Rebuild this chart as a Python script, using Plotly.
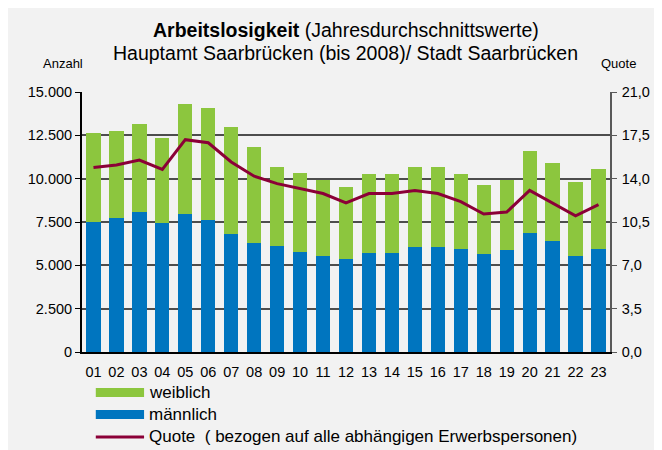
import plotly.graph_objects as go

jahre = ["01","02","03","04","05","06","07","08","09","10","11","12",
         "13","14","15","16","17","18","19","20","21","22","23"]
gesamt = [12630, 12730, 13150, 12350, 14300, 14080, 12960, 11810, 10670, 10340, 9920, 9520,
          10250, 10250, 10670, 10670, 10250, 9640, 9920, 11600, 10880, 9830, 10550]
maennlich = [7520, 7750, 8050, 7420, 7940, 7630, 6790, 6280, 6090, 5760, 5550, 5340,
             5740, 5740, 6070, 6070, 5970, 5650, 5880, 6890, 6390, 5530, 5970]
weiblich = [g - m for g, m in zip(gesamt, maennlich)]
quote = [14.9, 15.1, 15.5, 14.75, 17.15, 16.9, 15.35, 14.2, 13.6, 13.2, 12.8, 12.05,
         12.8, 12.8, 13.05, 12.8, 12.15, 11.15, 11.3, 13.05, 12.05, 11.0, 11.9]

GREEN = "#8cc63e"
BLUE = "#0075bf"
RED = "#8b0037"
FONT = "Liberation Sans, Arial, sans-serif"

fig = go.Figure()
fig.add_trace(go.Bar(x=jahre, y=maennlich, name="männlich", marker=dict(color=BLUE, line=dict(width=0)), showlegend=False))
fig.add_trace(go.Bar(x=jahre, y=weiblich, name="weiblich", marker=dict(color=GREEN, line=dict(width=0)), showlegend=False))
fig.add_trace(go.Scatter(x=jahre, y=quote, name="Quote", yaxis="y2", mode="lines",
                         line=dict(color=RED, width=3), showlegend=False))

# page body has an 8px margin; the figure starts at (8, 8) in the window
OFF = 8
W, H = 654, 442
L, T = 82 - OFF, 92 - OFF
pw, ph = 536, 260
R = W - L - pw
B = H - T - ph

def px(x):
    return (x - OFF - L) / pw

def py(y):
    return (T + ph - (y - OFF)) / ph

annotations = [
    dict(text="<b>Arbeitslosigkeit</b> (Jahresdurchschnittswerte)", x=px(350), y=py(30),
         font=dict(size=19.5, color="black")),
    dict(text="Hauptamt Saarbrücken (bis 2008)/ Stadt Saarbrücken", x=px(349), y=py(53),
         font=dict(size=19.5, color="black")),
    dict(text="Anzahl", x=px(63), y=py(64), font=dict(size=13, color="black")),
    dict(text="Quote", x=px(627), y=py(64), font=dict(size=13, color="black")),
    dict(text="weiblich", x=px(148), y=py(393), xanchor="left", font=dict(size=17, color="black")),
    dict(text="männlich", x=px(148), y=py(414), xanchor="left", font=dict(size=17, color="black")),
    dict(text="Quote  ( bezogen auf alle abhängigen Erwerbspersonen)", x=px(148), y=py(436),
         xanchor="left", font=dict(size=17, color="black")),
]
for a in annotations:
    a.update(xref="paper", yref="paper", showarrow=False)
    a.setdefault("xanchor", "center")
    a["yanchor"] = "middle"

shapes = [
    dict(type="rect", xref="paper", yref="paper", x0=px(96), x1=px(145), y0=py(397), y1=py(388),
         fillcolor=GREEN, line=dict(width=0)),
    dict(type="rect", xref="paper", yref="paper", x0=px(96), x1=px(145), y0=py(419), y1=py(410),
         fillcolor=BLUE, line=dict(width=0)),
    dict(type="line", xref="paper", yref="paper", x0=px(96), x1=px(145), y0=py(437), y1=py(437),
         line=dict(color=RED, width=3)),
]

fig.update_layout(
    width=W, height=H,
    margin=dict(l=L, r=R, t=T, b=B),
    paper_bgcolor="#f2f2f2", plot_bgcolor="#f2f2f2",
    barmode="stack", bargap=0.38,
    separators=",.",
    font=dict(family=FONT, size=14.5, color="black"),
    annotations=annotations, shapes=shapes,
    xaxis=dict(type="category", showline=True, linecolor="black", linewidth=2,
               ticks="", tickfont=dict(size=14.5), showgrid=False, mirror=False,
               ticklabelstandoff=6),
    yaxis=dict(range=[0, 15000], dtick=2500, tickformat=",d", showline=True, linecolor="black",
               linewidth=2, ticks="outside", ticklen=5, tickcolor="black",
               showgrid=True, gridcolor="#4d4d4d", gridwidth=1.5, zeroline=False,
               tickfont=dict(size=14.5)),
    yaxis2=dict(range=[0, 21], dtick=3.5, tickformat=".1f", overlaying="y", side="right",
                showline=True, linecolor="#595959", linewidth=1.5, ticks="outside", ticklen=5,
                tickcolor="#595959", showgrid=False, zeroline=False, tickfont=dict(size=14.5),
                ticklabelstandoff=2),
)

fig.write_html("out.html")
